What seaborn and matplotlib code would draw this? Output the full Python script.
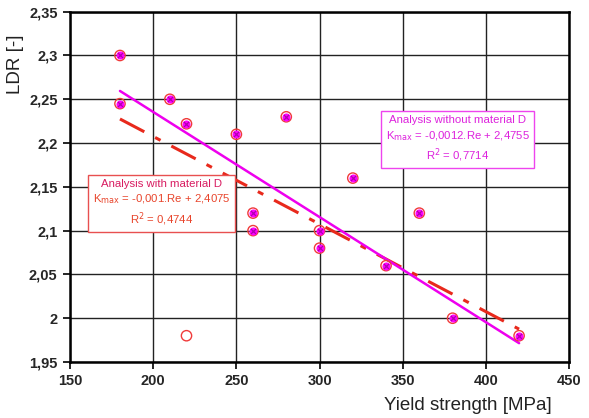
import numpy as np
import pandas as pd
import matplotlib
matplotlib.use("Agg")
import matplotlib.pyplot as plt
import seaborn as sns
from matplotlib.ticker import FuncFormatter
from matplotlib.offsetbox import TextArea, VPacker, AnnotationBbox

# Measured samples: all materials (including D)
re_all = [180, 180, 210, 220, 250, 280, 260, 260, 300, 300, 220, 320, 360, 340, 380, 420]
ldr_all = [2.30, 2.245, 2.25, 2.222, 2.21, 2.23, 2.12, 2.10, 2.10, 2.08, 1.98, 2.16, 2.12, 2.06, 2.00, 1.98]

# Samples without material D
re_nod = [180, 180, 210, 220, 250, 280, 260, 260, 300, 300, 320, 360, 340, 380, 420]
ldr_nod = [2.30, 2.245, 2.25, 2.222, 2.21, 2.23, 2.12, 2.10, 2.10, 2.08, 2.16, 2.12, 2.06, 2.00, 1.98]

# Linear trends  K_max = a*Re + b
fit_with = (-0.001, 2.4075)
fit_without = (-0.0012, 2.4755)
fit_range = [180, 420]

x_ticks = [150, 200, 250, 300, 350, 400, 450]
y_ticks = [1.95, 2.0, 2.05, 2.1, 2.15, 2.2, 2.25, 2.3, 2.35]

sns.set_theme(style="white")
plt.rcParams["font.family"] = ["Liberation Sans", "DejaVu Sans"]

fig = plt.figure(figsize=(5.89, 4.18), dpi=100)
ax = fig.add_axes([0.119, 0.134, 0.847, 0.838])

df_all = pd.DataFrame({"Re": re_all, "LDR": ldr_all})
df_nod = pd.DataFrame({"Re": re_nod, "LDR": ldr_nod})

fx = np.array(fit_range, dtype=float)
df_with = pd.DataFrame({"Re": fx, "K": fit_with[0] * fx + fit_with[1]})
df_without = pd.DataFrame({"Re": fx, "K": fit_without[0] * fx + fit_without[1]})

# Trend lines
sns.lineplot(data=df_with, x="Re", y="K", ax=ax, color="#e8291c", linewidth=2.2, zorder=3)
ax.lines[-1].set_dashes([9, 4, 2, 4])
sns.lineplot(data=df_without, x="Re", y="K", ax=ax, color="#ee00ee", linewidth=1.8, zorder=4)

# Markers
sns.scatterplot(data=df_all, x="Re", y="LDR", ax=ax, marker="o", s=55,
                facecolor="none", edgecolor="#f03a3a", linewidth=1.0, zorder=5)
sns.scatterplot(data=df_nod, x="Re", y="LDR", ax=ax, marker="o", s=34,
                color="#ff00ff", edgecolor="#ff00ff", linewidth=0, zorder=6)
sns.scatterplot(data=df_nod, x="Re", y="LDR", ax=ax, marker="x", s=14,
                color="#b000b0", linewidth=0.9, zorder=7)

ax.set_xlim(150, 450)
ax.set_ylim(1.95, 2.35)
ax.set_xticks(x_ticks)
ax.set_yticks(y_ticks)


def comma_fmt(v, pos):
    s = f"{v:.2f}".rstrip("0").rstrip(".")
    return s.replace(".", ",")


ax.yaxis.set_major_formatter(FuncFormatter(comma_fmt))
ax.xaxis.set_major_formatter(FuncFormatter(lambda v, p: f"{int(v)}"))

ax.grid(True, color="#222222", linewidth=1.0)
ax.set_axisbelow(True)
for sp in ax.spines.values():
    sp.set_color("black")
    sp.set_linewidth(1.8)
    sp.set_visible(True)

ax.tick_params(axis="both", which="major", direction="out", length=5, width=1.2,
               color="black", labelsize=10.5, pad=4, left=True, bottom=True)
for lbl in ax.get_xticklabels() + ax.get_yticklabels():
    lbl.set_fontweight("bold")
    lbl.set_fontstretch("condensed")

ax.set_xlabel("Yield strength [MPa]", fontsize=13.5, color="#222222")
ax.set_ylabel("LDR [-]", fontsize=13.5, color="#222222")
ax.xaxis.set_label_coords(0.797, -0.10)
ax.yaxis.set_label_coords(-0.092, 0.85)


def equation_box(xy, lines, colors, edge):
    areas = [TextArea(t, textprops=dict(color=c, fontsize=8.2, family=["Liberation Sans", "DejaVu Sans"]))
             for t, c in zip(lines, colors)]
    pack = VPacker(children=areas, align="center", pad=0, sep=2.5)
    ab = AnnotationBbox(pack, xy, xycoords="data", frameon=True, pad=0.35, zorder=9,
                        bboxprops=dict(boxstyle="square", facecolor="white",
                                       edgecolor=edge, linewidth=1.0))
    ax.add_artist(ab)


equation_box((205, 2.131),
             ["Analysis with material D",
              r"K$_{\mathrm{max}}$ = -0,001.Re + 2,4075",
              "R$^2$ = 0,4744"],
             ["#d81b60", "#e8452c", "#e8452c"], "#e85050")

equation_box((383, 2.204),
             ["Analysis without material D",
              r"K$_{\mathrm{max}}$ = -0,0012.Re + 2,4755",
              "R$^2$ = 0,7714"],
             ["#dd22dd", "#dd22dd", "#dd22dd"], "#ee44ee")

fig.savefig("out.png", dpi=100)
